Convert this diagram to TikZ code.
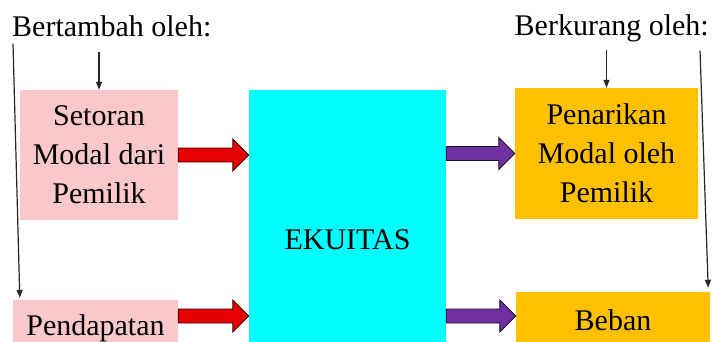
\documentclass[tikz,border=0pt]{standalone}
\usepackage{fontspec}
\setmainfont{Liberation Serif}
\usetikzlibrary{arrows.meta, calc}

\definecolor{boxpink}{RGB}{250,200,202}
\definecolor{boxcyan}{RGB}{0,255,255}
\definecolor{boxorange}{RGB}{255,192,0}
\definecolor{arrred}{RGB}{228,0,0}
\definecolor{arrpurple}{RGB}{112,48,160}

% block arrow between two points on one row
\newcommand{\blockarrow}[3]{%
  \draw[fill=#3, draw=black!70!#3, line width=0.9pt, line join=miter]
    ($(#1)+(0,-7)$) -- ($(#2)+(-16,-7)$) -- ($(#2)+(-16,-16)$) -- (#2)
    -- ($(#2)+(-16,16)$) -- ($(#2)+(-16,7)$) -- ($(#1)+(0,7)$) -- cycle;}

\begin{document}
\begin{tikzpicture}[x=1pt, y=-1pt,
    font=\fontsize{30}{39}\selectfont,
    box/.style={inner sep=0, align=center},
    thinarrow/.style={-{Triangle[length=8pt, width=6pt]}, line width=1.2pt, black!85}]
    \useasboundingbox (0,0) rectangle (714,342);
    \clip (0,0) rectangle (714,342);

    \node[anchor=base west, inner sep=0] (bertambah) at (12,37) {Bertambah oleh:};
    \node[anchor=base east, inner sep=0] (berkurang) at (709,36) {Berkurang oleh:};

    \node[box, fill=boxpink, minimum width=158, minimum height=130] (setoran) at (99,155) {Setoran\\Modal dari\\Pemilik};
    \node[box, fill=boxcyan, minimum width=197, minimum height=300] (ekuitas) at (347.5,240) {EKUITAS};
    \node[box, fill=boxorange, minimum width=183, minimum height=131] (penarikan) at (606.5,153.5) {Penarikan\\Modal oleh\\Pemilik};
    \node[box, fill=boxpink, minimum width=165, minimum height=56] (pendapatan) at (95.5,328) {Pendapatan};
    \node[box, fill=boxorange, minimum width=194, minimum height=56] (beban) at (613,320) {Beban};

    \coordinate (row2) at (0,316);
    \blockarrow{setoran.east}{ekuitas.west |- setoran.east}{arrred}
    \blockarrow{pendapatan.east |- row2}{ekuitas.west |- row2}{arrred}
    \blockarrow{ekuitas.east |- penarikan.west}{penarikan.west}{arrpurple}
    \blockarrow{ekuitas.east |- row2}{beban.west |- row2}{arrpurple}

    \draw[thinarrow] ($(setoran.north)+(0,-38)$) -- (setoran.north);
    \draw[thinarrow] ($(penarikan.north)+(0,-38)$) -- (penarikan.north);
    \draw[thinarrow] ($(bertambah.south west)+(1,6)$) -- ($(pendapatan.north west)+(7,-2)$);
    \draw[thinarrow] ($(berkurang.south east)+(-9,8)$) -- ($(beban.north east)+(-2,-4)$);
\end{tikzpicture}
\end{document}
